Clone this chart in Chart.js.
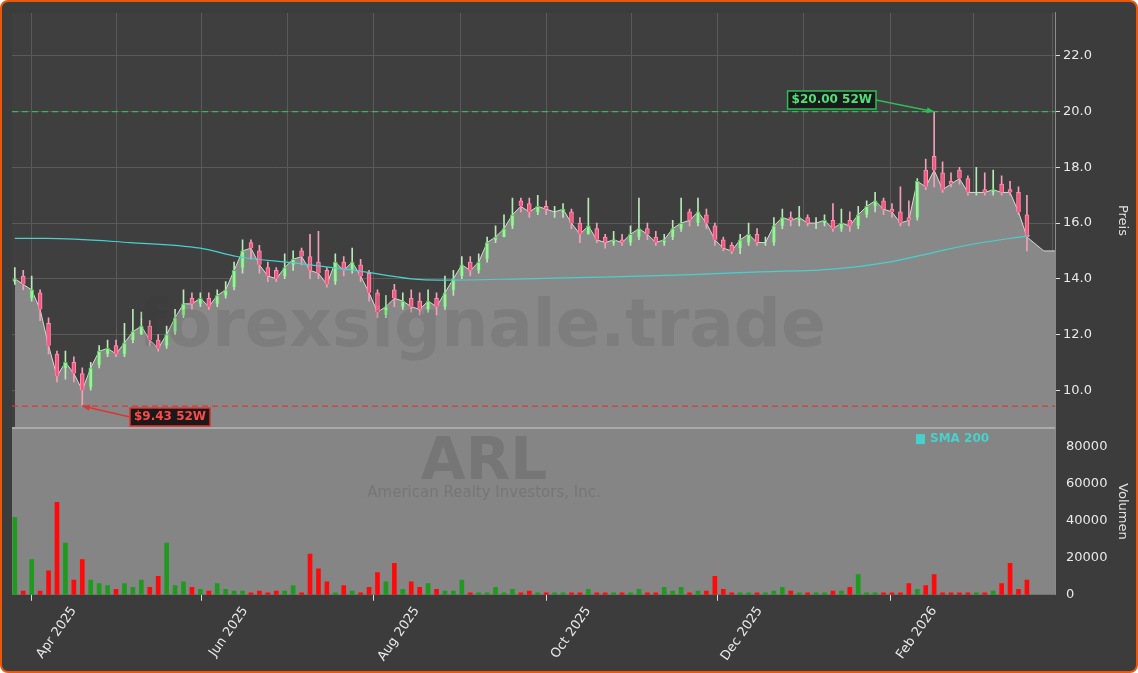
<!DOCTYPE html>
<html>
<head>
<meta charset="utf-8">
<style>
  html, body { margin: 0; padding: 0; background: #fff; }
  #wrap { position: absolute; left: 0; top: 0; width: 1134px; height: 669px; background: #3c3c3c; border: 2px solid #e8580c; border-radius: 8px; overflow: hidden; }
  canvas { display: block; }
</style>
</head>
<body>
<div id="wrap"><canvas id="c" width="1134" height="669"></canvas></div>
<script src="https://cdn.jsdelivr.net/npm/chart.js"></script>
<script>
// days counted from 1 Apr 2025
const days   = [-21,-18,-15,-12,-9,-6,-3,0,3,6,9,12,15,18,21,24,27,30,33,36,39,42,45,48,51,54,57,60,63,66,69,72,75,78,81,84,87,90,93,96,99,102,105,108,111,114,117,120,123,126,129,132,135,138,141,144,147,150,153,156,159,162,165,168,171,174,177,180,183,186,189,192,195,198,201,204,207,210,213,216,219,222,225,228,231,234,237,240,243,246,249,252,255,258,261,264,267,270,273,276,279,282,285,288,291,294,297,300,303,306,309,312,315,318,321,324,327,330,333,336,339];
const closes = [14.0,13.8,13.6,12.9,11.6,10.5,11.0,10.6,10.0,10.8,11.4,11.5,11.3,11.7,12.1,12.3,11.8,11.5,12.0,12.6,13.1,13.1,13.3,13.0,13.4,13.6,14.3,15.0,15.1,14.5,14.1,14.0,14.4,14.7,14.8,14.3,14.2,13.8,14.6,14.3,14.6,14.1,13.5,12.8,13.0,13.3,13.2,13.0,12.9,13.2,13.0,13.5,14.0,14.5,14.3,14.6,15.3,15.5,15.8,16.3,16.6,16.4,16.6,16.5,16.4,16.5,16.0,15.6,15.9,15.4,15.3,15.4,15.3,15.6,15.8,15.6,15.3,15.4,15.8,16.0,16.1,16.4,16.0,15.4,15.1,15.0,15.4,15.6,15.3,15.3,15.9,16.2,16.1,16.2,16.0,16.0,16.1,15.8,16.0,15.9,16.3,16.6,16.8,16.5,16.4,16.0,16.1,17.5,17.3,17.9,17.2,17.4,17.6,17.1,17.1,17.1,17.2,17.1,17.1,16.4,15.5];
const opens  = [13.9,14.1,13.3,13.5,12.4,11.3,10.8,11.0,10.6,10.1,10.9,11.3,11.6,11.3,11.8,12.0,12.3,11.8,11.6,12.1,12.7,13.3,13.1,13.3,13.1,13.4,13.7,14.4,15.3,15.0,14.4,14.3,14.1,14.5,15.0,14.8,14.6,14.3,13.9,14.6,14.3,14.5,14.2,13.5,12.7,13.6,13.0,13.3,13.2,12.9,13.3,13.0,13.6,14.1,14.6,14.3,14.7,15.4,15.5,15.9,16.8,16.7,16.4,16.6,16.4,16.4,16.4,16.0,15.6,15.8,15.5,15.3,15.4,15.3,15.5,15.8,15.5,15.3,15.5,15.8,16.4,16.0,16.3,15.9,15.4,15.2,15.1,15.3,15.6,15.3,15.3,15.9,16.2,16.1,16.2,16.0,16.0,16.1,15.8,16.1,15.9,16.3,16.6,16.8,16.5,16.4,16.2,16.2,17.9,18.4,17.8,17.5,17.9,17.6,17.1,17.2,17.1,17.4,17.2,17.1,16.3];
const highs  = [14.4,14.3,14.1,13.6,12.6,11.4,11.4,11.2,10.8,11.0,11.6,11.8,11.8,12.4,12.9,12.8,12.5,12.0,12.3,12.9,13.6,13.5,13.5,13.5,13.6,13.9,14.6,15.4,15.4,15.2,14.6,14.4,14.9,15.0,15.1,15.6,15.7,14.4,14.9,14.8,15.1,14.7,14.3,13.6,13.4,13.8,13.5,13.6,13.5,13.6,13.5,14.1,14.3,14.8,14.8,14.9,15.5,15.9,16.3,16.9,16.9,16.9,17.0,16.8,16.6,16.7,16.5,16.2,16.9,16.0,15.6,15.7,15.6,15.9,16.9,16.0,15.7,15.6,16.1,16.9,16.5,16.9,16.5,16.0,15.5,15.3,15.6,16.0,15.8,15.5,16.2,16.5,16.4,16.6,16.3,16.2,16.3,16.7,16.5,16.4,16.6,16.8,17.1,16.9,16.7,17.3,16.8,17.6,18.3,20.0,18.2,17.8,18.0,17.7,18.0,17.8,17.9,17.7,17.5,17.3,17.0];
const lows   = [13.8,13.6,13.2,12.5,11.3,10.3,10.4,10.3,9.43,10.0,10.8,11.2,11.2,11.2,11.7,12.0,11.6,11.4,11.5,12.0,12.6,12.9,13.0,12.9,13.0,13.3,13.6,14.2,14.7,14.2,13.9,13.9,14.0,14.3,14.5,14.0,14.0,13.7,13.8,14.1,14.2,13.9,13.2,12.6,12.6,13.0,12.9,12.8,12.7,12.8,12.7,12.9,13.4,14.0,14.1,14.2,14.6,15.3,15.5,15.8,16.4,16.2,16.3,16.3,16.2,16.2,15.8,15.3,15.6,15.3,15.1,15.2,15.2,15.2,15.4,15.4,15.2,15.2,15.4,15.7,15.9,15.9,15.8,15.2,15.0,14.9,14.9,15.2,15.2,15.2,15.2,15.8,15.9,15.9,15.9,15.8,15.9,15.7,15.7,15.7,15.8,16.2,16.4,16.3,16.2,15.9,15.9,16.1,17.2,17.3,17.1,17.3,17.4,17.0,17.0,17.0,17.0,17.0,17.0,16.3,15.0];
const volumes = [42000,2000,19000,2000,13000,50000,28000,8000,19000,8000,6000,5000,3000,6000,4000,8000,4000,10000,28000,5000,7000,4000,3000,2000,6000,3000,2000,2000,1000,2000,1000,2000,2000,5000,1000,22000,14000,7000,1000,5000,2000,1000,4000,12000,7000,17000,3000,7000,4000,6000,3000,2000,2000,8000,1000,1000,1000,4000,1000,3000,1000,2000,1000,1000,1000,1000,1000,1000,3000,1000,1000,1000,1000,1000,3000,1000,1000,4000,2000,4000,1000,2000,2000,10000,3000,1000,1000,1000,1000,1000,2000,4000,2000,1000,1000,1000,1000,2000,2000,4000,11000,1000,1000,1000,1000,1000,6000,3000,5000,11000,1000,1000,1000,1000,1000,1000,2000,6000,17000,3000,8000];
// flat tail after the last candle
const tailDays = [345, 349];
const tailCloses = [15.0, 15.0];
// 200-day SMA
const smaDays = [-21,-10,20,45,58,80,100,120,130,160,183,220,244,270,290,306,320,340];
const smaVals = [15.45,15.45,15.3,15.1,14.8,14.55,14.3,14.0,13.95,14.0,14.05,14.15,14.25,14.35,14.6,14.95,15.25,15.55];
const monthTicks = [0,30,61,91,122,153,183,214,244,275,306,334];
const monthLabels = {0:'Apr 2025',61:'Jun 2025',122:'Aug 2025',183:'Oct 2025',244:'Dec 2025',306:'Feb 2026'};
const high52 = 20.00, low52 = 9.43;

const up = days.map((d, i) => closes[i] >= opens[i]);
const pt = (xs, ys) => xs.map((x, i) => ({ x, y: ys[i] }));

const panels = {
  id: 'panels',
  beforeDraw(c) {
    const { ctx, chartArea: a, scales } = c;
    ctx.save();
    ctx.fillStyle = '#3f3f3f';
    ctx.fillRect(a.left, scales.y.top, a.width, scales.y.bottom - scales.y.top);
    ctx.restore();
  },
  beforeDatasetsDraw(c) {
    const { ctx, chartArea: a, scales } = c;
    const v = scales.yv;
    ctx.save();
    ctx.fillStyle = '#858585';
    ctx.fillRect(a.left, v.top, a.width, v.bottom - v.top);
    ctx.textAlign = 'center'; ctx.textBaseline = 'middle';
    ctx.fillStyle = 'rgba(60,60,60,0.2)';
    ctx.font = 'bold 58px "DejaVu Sans"';
    ctx.fillText('ARL', 482, v.top + 36);
    ctx.font = '15px "DejaVu Sans"';
    ctx.fillText('American Realty Investors, Inc.', 482, v.top + 65);
    ctx.restore();
  },
  afterDatasetsDraw(c) {
    const { ctx, chartArea: a, scales } = c;
    const x = scales.x, y = scales.y;
    ctx.save();
    ctx.strokeStyle = '#aaaaaa'; ctx.lineWidth = 2;
    ctx.beginPath(); ctx.moveTo(a.left, scales.yv.top); ctx.lineTo(a.right, scales.yv.top); ctx.stroke();
    ctx.textAlign = 'center'; ctx.textBaseline = 'middle';
    ctx.fillStyle = 'rgba(55,55,55,0.13)';
    ctx.font = 'bold 66px "DejaVu Sans"';
    ctx.fillText('forexsignale.trade', 480, 327);
    ctx.lineWidth = 1.3; ctx.setLineDash([6, 4]);
    ctx.strokeStyle = '#2ebd55';
    ctx.beginPath(); ctx.moveTo(a.left, y.getPixelForValue(high52)); ctx.lineTo(a.right, y.getPixelForValue(high52)); ctx.stroke();
    ctx.strokeStyle = '#e03535';
    ctx.beginPath(); ctx.moveTo(a.left, y.getPixelForValue(low52)); ctx.lineTo(a.right, y.getPixelForValue(low52)); ctx.stroke();
    ctx.setLineDash([]);
    const label = (txt, px, py, bx, by, col, fg) => {
      ctx.strokeStyle = col; ctx.fillStyle = col; ctx.lineWidth = 1.5;
      ctx.beginPath(); ctx.moveTo(bx, by); ctx.lineTo(px, py); ctx.stroke();
      const ang = Math.atan2(py - by, px - bx);
      ctx.beginPath(); ctx.moveTo(px, py);
      ctx.lineTo(px - 8 * Math.cos(ang - 0.4), py - 8 * Math.sin(ang - 0.4));
      ctx.lineTo(px - 8 * Math.cos(ang + 0.4), py - 8 * Math.sin(ang + 0.4));
      ctx.fill();
      ctx.font = 'bold 12px "DejaVu Sans"';
      const w = ctx.measureText(txt).width + 8;
      const lx = bx < px ? bx - w : bx, ly = by - 9;
      ctx.fillStyle = '#1a1a1a'; ctx.fillRect(lx, ly, w, 18);
      ctx.strokeStyle = col; ctx.strokeRect(lx, ly, w, 18);
      ctx.fillStyle = fg; ctx.textAlign = 'left'; ctx.textBaseline = 'middle';
      ctx.fillText(txt, lx + 4, ly + 9);
    };
    label('$20.00 52W', x.getPixelForValue(306), y.getPixelForValue(high52), 874, 98, '#2ebd55', '#4fe07a');
    label('$9.43 52W', x.getPixelForValue(3), y.getPixelForValue(low52), 128, 415, '#e03535', '#ff4a4a');
    ctx.fillStyle = '#48d1cc'; ctx.font = 'bold 12px "DejaVu Sans"';
    ctx.textAlign = 'left'; ctx.textBaseline = 'middle';
    ctx.fillRect(914, scales.yv.top + 6, 9, 10);
    ctx.fillText('SMA 200', 928, scales.yv.top + 11);
    ctx.restore();
  }
};

new Chart(document.getElementById('c'), {
  data: {
    datasets: [
      { type: 'line', data: pt(days.concat(tailDays), closes.concat(tailCloses)), yAxisID: 'y',
        borderColor: '#d8d8d8', borderWidth: 1, backgroundColor: '#888888', fill: 'start', pointRadius: 0, tension: 0, order: 5 },
      { type: 'bar', data: days.map((d, i) => ({ x: d, y: [lows[i], highs[i]] })), yAxisID: 'y',
        backgroundColor: up.map(u => u ? '#b8e8b8' : '#f0a0b8'), barThickness: 1, grouped: false, order: 3 },
      { type: 'bar', data: days.map((d, i) => ({ x: d, y: [opens[i], closes[i]] })), yAxisID: 'y',
        backgroundColor: up.map(u => u ? '#a8e8a8' : '#f05a80'), borderColor: up.map(u => u ? '#4ec24e' : '#ff8fb0'), borderWidth: 1,
        barThickness: 4, grouped: false, order: 2 },
      { type: 'line', data: pt(smaDays, smaVals), yAxisID: 'y', borderColor: '#48d1cc', borderWidth: 1.2,
        pointRadius: 0, cubicInterpolationMode: 'monotone', order: 1 },
      { type: 'bar', data: days.map((d, i) => ({ x: d, y: volumes[i] })), yAxisID: 'yv',
        backgroundColor: up.map(u => u ? '#1f9a1f' : '#ff0a0a'), barThickness: 4, grouped: false, order: 4 }
    ]
  },
  options: {
    responsive: false, animation: false,
    layout: { padding: { left: 10, top: 10, right: 2, bottom: 4 } },
    plugins: { legend: { display: false }, tooltip: { enabled: false } },
    scales: {
      x: { type: 'linear', min: -22, max: 349, offset: false,
        afterBuildTicks: s => { s.ticks = monthTicks.map(v => ({ value: v })); },
        ticks: { color: '#e8e8e8', font: { size: 13, family: 'DejaVu Sans' }, maxRotation: 55, minRotation: 55, autoSkip: false,
          callback: v => monthLabels[v] || '' },
        grid: { color: '#5a5a5a', tickColor: ctx => monthLabels[ctx.tick && ctx.tick.value] !== undefined ? '#dddddd' : 'transparent', tickLength: 6 },
        border: { display: false } },
      y: { type: 'linear', position: 'right', stack: 'p', stackWeight: 416, min: 8.64, max: 23.55,
        afterBuildTicks: s => { s.ticks = [10, 12, 14, 16, 18, 20, 22].map(v => ({ value: v })); },
        ticks: { color: '#e8e8e8', font: { size: 13, family: 'DejaVu Sans' }, callback: v => v.toFixed(1) },
        grid: { color: '#5a5a5a', tickColor: '#dddddd', tickLength: 5 },
        border: { color: '#8a8a8a' },
        title: { display: true, text: 'Preis', color: '#e0e0e0', font: { size: 13, family: 'DejaVu Sans' } } },
      yv: { type: 'linear', position: 'right', stack: 'p', stackWeight: 167, min: 0, max: 90270,
        afterBuildTicks: s => { s.ticks = [0, 20000, 40000, 60000, 80000].map(v => ({ value: v })); },
        ticks: { color: '#e8e8e8', font: { size: 13, family: 'DejaVu Sans' }, callback: v => String(v) },
        grid: { display: false, drawOnChartArea: false },
        border: { color: '#8a8a8a' },
        title: { display: true, text: 'Volumen', color: '#e0e0e0', font: { size: 13, family: 'DejaVu Sans' } } }
    }
  },
  plugins: [panels]
});
</script>
</body>
</html>
